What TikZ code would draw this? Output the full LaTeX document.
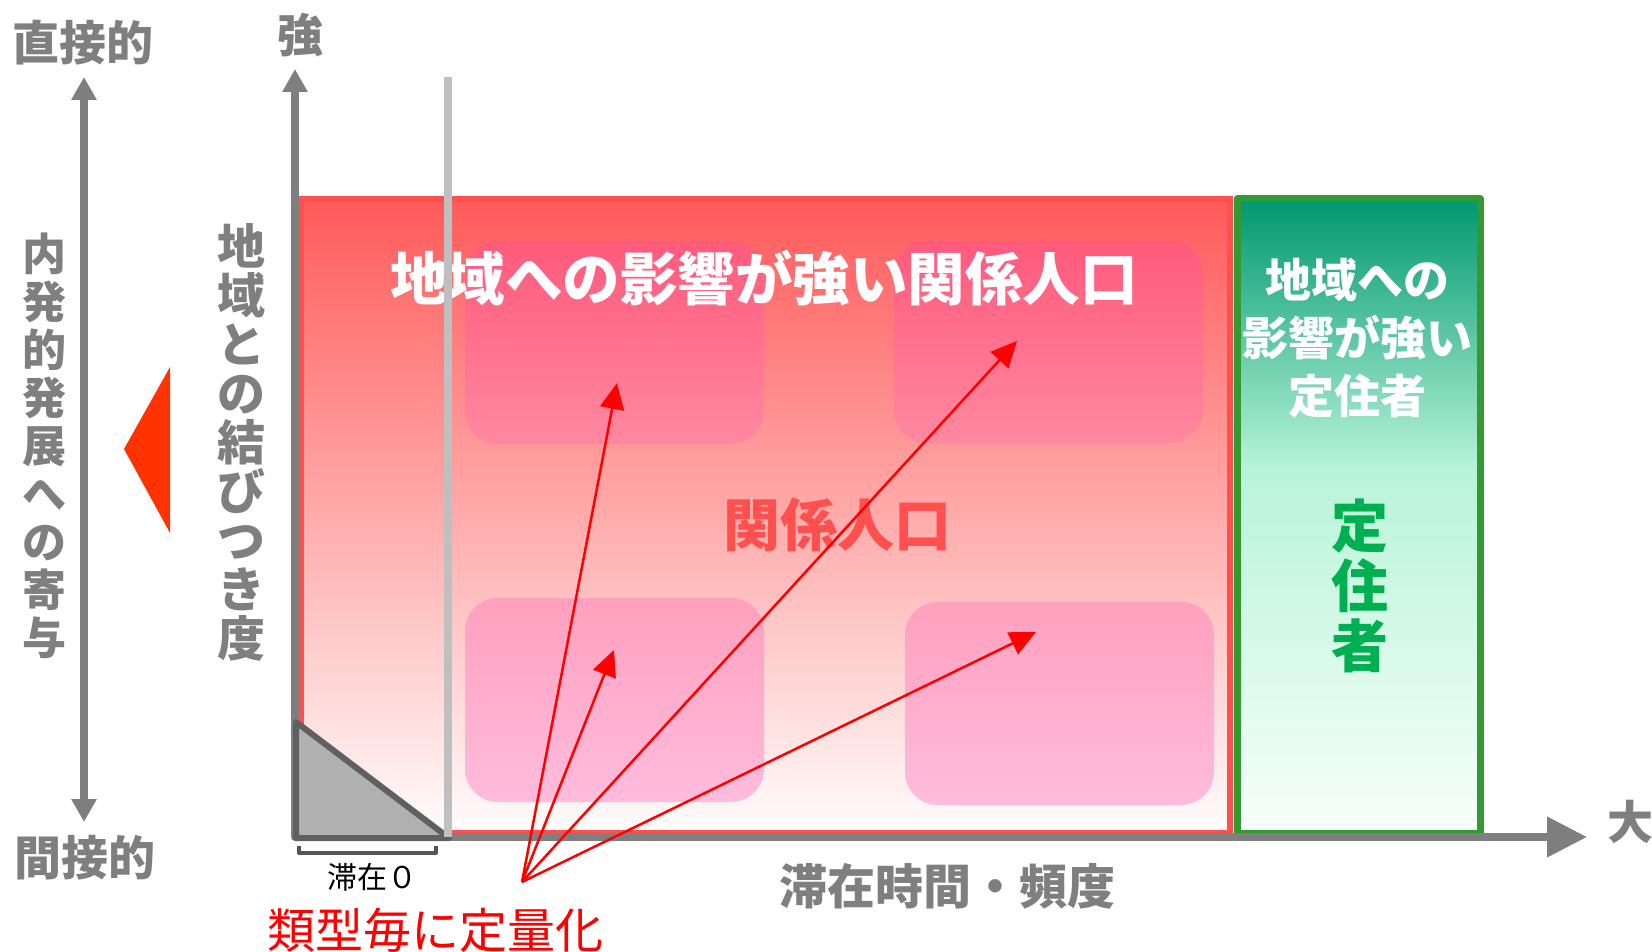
\documentclass[tikz,border=0pt]{standalone}
\usepackage{fontspec}
\newfontfamily\jp{Noto Sans CJK JP}
\usetikzlibrary{arrows.meta}
\definecolor{axisgray}{HTML}{7F7F7F}
\definecolor{vline}{HTML}{BFBFBF}
\definecolor{tridark}{HTML}{606060}
\definecolor{trifill}{HTML}{B0B0B0}
\definecolor{redtop}{HTML}{FF5A5A}
\definecolor{redbot}{HTML}{FFFCFC}
\definecolor{redborder}{HTML}{FF5050}
\definecolor{greentop}{HTML}{009870}
\definecolor{greenmid}{HTML}{B8F4D8}
\definecolor{greenbot}{HTML}{F8FFFB}
\definecolor{greenborder}{HTML}{339933}
\definecolor{greentext}{HTML}{00B050}
\definecolor{pinkAtop}{HTML}{FF5A7C}
\definecolor{pinkAbot}{HTML}{FF88A0}
\definecolor{pinkBtop}{HTML}{FFA0BE}
\definecolor{pinkBbot}{HTML}{FFBCDC}
\definecolor{marker}{HTML}{FF3300}
\definecolor{bracket}{HTML}{555555}
\newcommand{\jpfs}[2]{\jp\fontsize{#1}{#2}\selectfont}
\begin{document}
\begin{tikzpicture}[x=1pt,y=-1pt,
  txt/.style={inner sep=0pt, align=center},
  graylbl/.style={txt, text=axisgray},
  pinkbox/.style={rounded corners=33pt},
  arr/.style={red, line width=2.5pt, -{Triangle[length=26pt,width=24pt]}},
  axisline/.style={axisgray, line width=7.5pt, line join=round}
]
\useasboundingbox (0,0) rectangle (1652,952);

% red region
\shade[top color=redtop, bottom color=redbot] (300,199) rectangle (1230,833);
\draw[redborder, line width=6pt] (301,199) rectangle (1230,833);
% green region
\shade[top color=greentop, bottom color=greenmid] (1237,199) rectangle (1480,470);
\shade[top color=greenmid, bottom color=greenbot] (1237,470) rectangle (1480,833);
\draw[greenborder, line width=7pt, line join=round] (1237,199) rectangle (1480,833);

% pink boxes
\shade[pinkbox, top color=pinkAtop, bottom color=pinkAbot] (465,241) rectangle (764,444);
\shade[pinkbox, top color=pinkAtop, bottom color=pinkAbot] (894,241) rectangle (1203,443);
\shade[pinkbox, top color=pinkBtop, bottom color=pinkBbot] (465,598) rectangle (764,802);
\shade[pinkbox, top color=pinkBtop, bottom color=pinkBbot] (905,602) rectangle (1214,805);

% texts inside
\node[txt, text=white, font={\jpfs{57.5}{60}\bfseries}] (title) at (764,278) {地域への影響が強い関係人口};
\node[txt, text=redborder, font={\jpfs{57}{60}\bfseries}] (kankei) at (837,525) {関係人口};
\node[txt, text=white, font={\jpfs{46}{58}\bfseries}] (gtitle) at (1357,338) {地域への\\影響が強い\\定住者};
\node[txt, text=greentext, font={\jpfs{57}{60}\bfseries}] (teiju) at (1360,586) {定\\住\\者};

% axes
\draw[axisline, {Triangle[length=23pt,width=24pt]}-{Triangle[length=40pt,width=39pt]}]
  (295,69) -- (295,837) -- (1587,837);
% zero-stay triangle
\filldraw[fill=trifill, draw=tridark, line width=6pt, line join=round] (296,722) -- (449,838) -- (296,838) -- cycle;
% gray vertical line
\draw[vline, line width=8pt] (448,77) -- (448,837);
% bracket
\draw[bracket, line width=4pt, line join=round] (299,846) -- (299,853) -- (436,853) -- (436,846);

% left axis
\draw[axisgray, line width=8pt, {Triangle[length=23pt,width=24pt]}-{Triangle[length=23pt,width=24pt]}] (84,77) -- (84,822);
\fill[marker] (124,449) -- (170,367) -- (170,533) -- cycle;

% labels
\node[graylbl, font={\jpfs{47}{50}\bfseries}] (direct) at (83,43) {直接的};
\node[graylbl, font={\jpfs{47}{50}\bfseries}] (indirect) at (85,858) {間接的};
\node[graylbl, font={\jpfs{44}{48}\bfseries}] (naihatsu) at (44,446) {内\\発\\的\\発\\展\\へ\\の\\寄\\与};
\node[graylbl, font={\jpfs{48}{49}\bfseries}] (musubi) at (241,442) {地\\域\\と\\の\\結\\び\\つ\\き\\度};
\node[graylbl, font={\jpfs{46}{50}\bfseries}] (strong) at (300,35) {強};
\node[graylbl, font={\jpfs{46}{50}\bfseries}] (large) at (1630,822) {大};
\node[graylbl, font={\jpfs{48}{50}\bfseries}] (xlabel) at (947,886) {滞在時間・頻度};
\node[txt, text=black, font={\jpfs{30}{32}}] (zero) at (372,877) {滞在０};
\node[txt, text=red, font={\jpfs{48}{50}}] (quant) at (435,930) {類型毎に定量化};

% arrows
\coordinate (src) at (522,882);
\coordinate (t1) at (617,383);
\coordinate (t2) at (1017,341);
\coordinate (t3) at (614,650);
\coordinate (t4) at (1036,632);
\draw[arr] (src) -- (t1);
\draw[arr] (src) -- (t2);
\draw[arr] (src) -- (t3);
\draw[arr] (src) -- (t4);
\end{tikzpicture}
\end{document}
